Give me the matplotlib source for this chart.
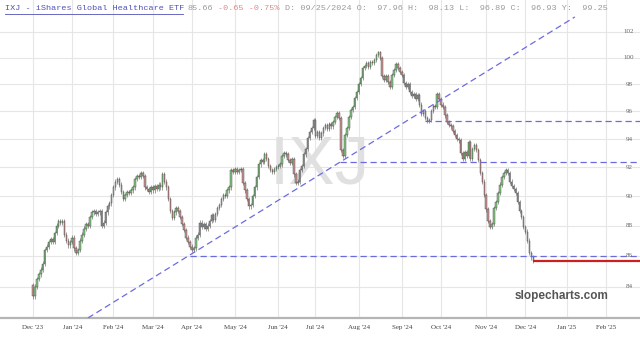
import matplotlib
matplotlib.use("Agg")
import matplotlib.pyplot as plt
import numpy as np
import pandas as pd
from matplotlib.transforms import blended_transform_factory
from matplotlib.ticker import NullLocator

# ---------------- data ----------------
TICKER = "IXJ"
NAME = "IXJ - iShares Global Healthcare ETF"
LAST = "85.66"
CHG = "-0.65"
PCT = "-0.75%"
INFO_LABELS = ["O:", "H:", "L:", "C:", "Y:"]
INFO_VALUES = ["97.96", "98.13", "96.89", "96.93", "99.25"]
INFO_DATE = "09/25/2024"

close_dec23 = [83.4, 84.0, 84.5, 84.8, 85.1, 85.5, 86.4, 86.6, 86.9, 87.1,
               86.9, 87.5, 88.0, 88.3, 88.2, 88.3, 87.4, 87.0, 86.7, 86.9]
close_jan24 = [87.2, 86.5, 86.2, 86.4, 87.0, 87.4, 87.8, 88.1, 88.0, 88.6,
               88.9, 89.0, 88.8, 88.9, 89.0, 88.0, 88.2, 88.9, 89.3, 89.5, 90.1]
close_feb24 = [90.6, 91.0, 91.2, 90.8, 90.3, 89.8, 90.1, 90.3, 90.2, 90.4,
               90.6, 91.2, 91.4, 91.3, 91.6, 91.4, 90.6, 90.5, 90.3, 90.6]
close_mar24 = [90.4, 90.7, 90.5, 90.8, 90.6, 91.5, 91.0, 90.6, 89.8, 89.0,
               88.5, 88.9, 89.2, 89.0, 88.6, 88.1, 87.7, 87.2, 86.9, 86.6]
close_apr24 = [86.4, 86.5, 87.2, 87.4, 88.2, 87.9, 88.1, 87.8, 88.0, 88.3, 88.7,
               88.4, 88.8, 89.2, 89.4, 89.8, 90.1, 90.0, 90.4, 90.6, 91.8, 91.7]
close_may24 = [91.9, 91.7, 91.8, 91.9, 90.9, 90.4, 89.8, 89.3, 89.4, 90.0, 90.6,
               91.3, 92.2, 92.5, 92.4, 92.9, 92.6, 92.1, 91.8, 91.7, 91.9, 92.0]
close_jun24 = [92.1, 92.2, 92.8, 93.0, 92.9, 92.5, 92.3, 92.6, 91.5, 90.9,
               91.0, 91.8, 92.1, 92.9, 93.3, 94.1, 94.5, 94.8, 95.4]
close_jul24 = [94.2, 94.5, 94.1, 94.4, 94.8, 95.0, 94.7, 95.1, 94.9, 95.2, 95.6,
               95.9, 95.5, 93.2, 92.8, 94.3, 94.8, 95.6, 96.1, 96.3, 97.0, 97.4]
close_aug24 = [98.0, 98.5, 99.2, 99.4, 99.6, 99.3, 99.7, 99.6, 99.8, 100.2, 100.4,
               100.0, 98.6, 98.3, 98.6, 98.2, 97.8, 98.7, 99.1, 99.5, 99.2, 98.9]
close_sep24 = [98.7, 98.1, 97.8, 98.0, 97.4, 97.1, 97.3, 96.9, 97.2, 96.5,
               95.8, 96.0, 95.5, 95.3, 95.4, 96.0, 96.4, 96.3, 97.3, 96.9]
close_oct24 = [96.5, 96.3, 95.7, 95.2, 95.0, 94.9, 94.6, 94.3, 94.0, 93.9, 93.0, 92.6,
               93.1, 92.8, 93.8, 92.6, 93.3, 93.6, 93.2, 92.5, 91.6, 91.0, 90.1]
close_nov24 = [89.1, 88.3, 87.9, 88.1, 89.2, 89.6, 90.2, 90.8, 91.3, 91.6,
               91.8, 91.6, 91.0, 90.7, 90.5, 90.2, 89.6, 89.0, 88.6, 87.9]
close_dec24 = [87.6, 87.0, 86.2, 85.9, 85.66]
FIRST_OPEN = 84.1
WICK = 0.15

SUPPORT_LEVELS = [95.3, 92.4, 86.0]
SUPPORT_START = [200, 156.5, 80]          # bar index where each level begins
TREND_X = [28.0, 276.2]                    # bar index of trendline ends
TREND_Y = [82.03, 103.15]
Y_TICKS = [84, 86, 88, 90, 92, 94, 96, 98, 100, 102]
HOLIDAYS = ["2023-12-25", "2024-01-01", "2024-01-15", "2024-02-19", "2024-03-29",
            "2024-05-27", "2024-06-19", "2024-07-04", "2024-09-02", "2024-11-28",
            "2024-12-25", "2025-01-01", "2025-01-09", "2025-01-20"]

closes = np.array(close_dec23 + close_jan24 + close_feb24 + close_mar24 + close_apr24 +
                  close_may24 + close_jun24 + close_jul24 + close_aug24 + close_sep24 +
                  close_oct24 + close_nov24 + close_dec24)
opens = np.concatenate([[FIRST_OPEN], closes[:-1]])
highs = np.maximum(opens, closes) + WICK
lows = np.minimum(opens, closes) - WICK
xi = np.arange(len(closes))

days = pd.bdate_range("2023-12-01", "2025-02-28", freq="C", holidays=HOLIDAYS)
months = pd.period_range("2023-12", "2025-02", freq="M")
month_idx, month_lab = [], []
for m in months:
    sel = np.where((days.year == m.year) & (days.month == m.month))[0]
    month_idx.append(sel[0])
    month_lab.append(m.strftime("%b '%y"))

# ---------------- figure ----------------
W, H = 640, 340
fig = plt.figure(figsize=(6.4, 3.4), dpi=100)
fig.patch.set_facecolor("white")
ax = fig.add_axes([0, 22 / H, 1, 318 / H])
ax.set_yscale("log")
ax.set_ylim(82.03, 104.49)
ax.set_xlim(-16.8, 309.4)
ax.yaxis.set_major_locator(NullLocator())
ax.yaxis.set_minor_locator(NullLocator())

grid_c = "#e6e6e6"
for v in Y_TICKS:
    ax.axhline(v, color=grid_c, lw=0.8, zorder=0)
for m in month_idx:
    ax.axvline(m, color=grid_c, lw=0.8, zorder=0)

tr = blended_transform_factory(ax.transAxes, ax.transData)
for v in Y_TICKS:
    ax.text(0.983, v, f"{v}", transform=tr, ha="center", va="center",
            fontsize=5, family="Liberation Serif", color="#666666", zorder=6)

ax.set_xticks(month_idx)
ax.set_xticklabels(month_lab)
ax.tick_params(axis="x", length=0, labelsize=5, pad=5, colors="#444444")
for t in ax.get_xticklabels():
    t.set_fontfamily("Liberation Serif")
for s in ["top", "left", "right"]:
    ax.spines[s].set_visible(False)
ax.spines["bottom"].set_color("#b5b5b5")
ax.spines["bottom"].set_linewidth(1.6)

# watermark
ax.text(320 / W, 1 - 165 / H, TICKER, transform=fig.transFigure, fontsize=50,
        color="#e0e0e0", ha="center", va="center", family="Liberation Sans", zorder=1)

# candles
up = closes >= opens
fill = np.where(up, "#80c680", "#cc9292")
body_lo = np.minimum(opens, closes)
body_h = np.maximum(np.abs(closes - opens), 0.04)
ax.vlines(xi, lows, highs, color="#555555", lw=0.4, zorder=3)
ax.bar(xi, body_h, bottom=body_lo, width=0.72, color=fill, edgecolor="#444444",
       linewidth=0.3, zorder=4)

# lines
dash_c = "#6b6be0"
for lvl, st in zip(SUPPORT_LEVELS, SUPPORT_START):
    ax.hlines(lvl, st, 309.4, colors=dash_c, linestyles=(0, (5, 3)), lw=0.9, zorder=5)
ax.plot(TREND_X, TREND_Y, color=dash_c, ls=(0, (5, 3)), lw=0.9, zorder=5)
ax.hlines(float(LAST), len(closes) - 1, 309.4, colors="#cc2020", lw=1.6, zorder=6)

# branding
fig.text(562 / W, 1 - 296 / H, "slopecharts.com", fontsize=8.5, fontweight="bold",
         color="#555555", ha="center", va="center", family="Liberation Sans")

# header (monospace, laid out by character cells)
ty = 1 - 8 / H
FS = 6.1
CW = 0.6 * FS * 100 / 72  # px per character
mono = dict(family="Liberation Mono", fontsize=FS, va="center")
x0 = 5
fig.text(x0 / W, ty, NAME, color="#5050b8", **mono)
fig.add_artist(plt.Line2D([x0 / W, (x0 + len(NAME) * CW) / W],
                          [1 - 13.5 / H, 1 - 13.5 / H], color="#5050b8", lw=0.6))
pos = len(NAME) + 1
fig.text((x0 + pos * CW) / W, ty, LAST, color="#9a9a9a", **mono)
pos += len(LAST) + 1
red_txt = f"{CHG} {PCT}"
fig.text((x0 + pos * CW) / W, ty, red_txt, color="#e08a8a", **mono)
pos += len(red_txt) + 1
info = "D: " + INFO_DATE + "".join(f" {l}  {v}" for l, v in zip(INFO_LABELS, INFO_VALUES))
fig.text((x0 + pos * CW) / W, ty, info, color="#9a9a9a", **mono)

fig.savefig("out.png", dpi=100)
